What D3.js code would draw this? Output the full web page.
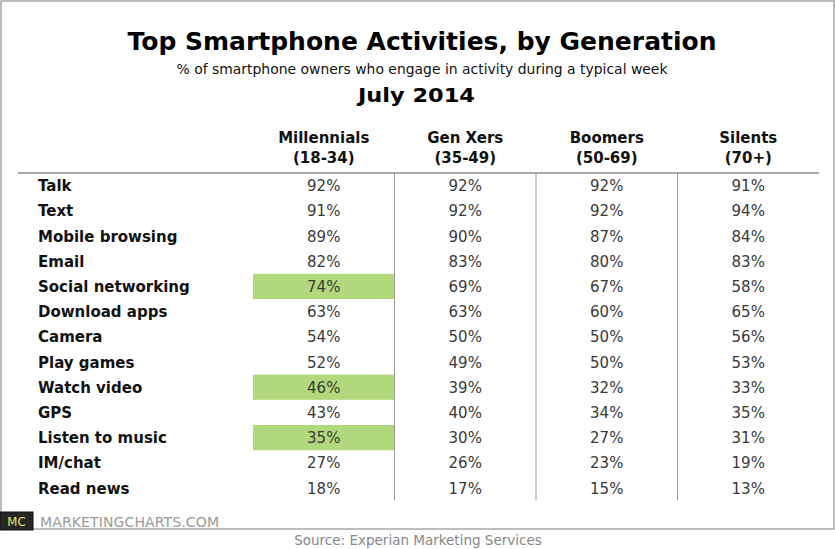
<!DOCTYPE html>
<html>
<head>
<meta charset="utf-8">
<script src="https://cdn.jsdelivr.net/npm/d3@7"></script>
<style>
  body { margin: 0; background: #fff; }
  svg text { font-family: "DejaVu Sans", Verdana, sans-serif; }
</style>
</head>
<body>
<div id="chart"></div>
<script>
// data
var activities = ["Talk", "Text", "Mobile browsing", "Email", "Social networking",
  "Download apps", "Camera", "Play games", "Watch video", "GPS",
  "Listen to music", "IM/chat", "Read news"];
var generations = ["Millennials", "Gen Xers", "Boomers", "Silents"];
var ageRanges = ["(18-34)", "(35-49)", "(50-69)", "(70+)"];
var millennials = [92, 91, 89, 82, 74, 63, 54, 52, 46, 43, 35, 27, 18];
var genXers     = [92, 92, 90, 83, 69, 63, 50, 49, 39, 40, 30, 26, 17];
var boomers     = [92, 92, 87, 80, 67, 60, 50, 50, 32, 34, 27, 23, 15];
var silents     = [91, 94, 84, 83, 58, 65, 56, 53, 33, 35, 31, 19, 13];
var highlighted = ["Social networking", "Watch video", "Listen to music"]; // millennials column

var W = 835, H = 549;
var svg = d3.select("#chart").append("svg")
  .attr("width", W).attr("height", H);

// outer frame
svg.append("rect")
  .attr("x", 1).attr("y", 1)
  .attr("width", 833).attr("height", 528)
  .style("fill", "none")
  .style("stroke", "#a8a8a8")
  .style("stroke-width", 1.5);

// titles
svg.append("text").attr("x", 422).attr("y", 50)
  .attr("text-anchor", "middle")
  .attr("textLength", 589).attr("lengthAdjust", "spacingAndGlyphs")
  .style("font-size", "25px").style("font-weight", "bold").style("fill", "#000")
  .text("Top Smartphone Activities, by Generation");
svg.append("text").attr("x", 422).attr("y", 74)
  .attr("text-anchor", "middle")
  .attr("textLength", 491).attr("lengthAdjust", "spacingAndGlyphs")
  .style("font-size", "13.5px").style("fill", "#111")
  .text("% of smartphone owners who engage in activity during a typical week");
svg.append("text").attr("x", 416.5).attr("y", 102)
  .attr("text-anchor", "middle")
  .attr("textLength", 117).attr("lengthAdjust", "spacingAndGlyphs")
  .style("font-size", "20px").style("font-weight", "bold").style("fill", "#000")
  .text("July 2014");

// scales
var x = d3.scaleBand().domain(generations).range([253, 819]);
var y = d3.scaleBand().domain(activities).range([173, 500.6]);

var columns = [millennials, genXers, boomers, silents];

// highlight cells
svg.selectAll("rect.hl")
  .data(highlighted)
  .enter().append("rect")
  .attr("class", "hl")
  .attr("x", x("Millennials"))
  .attr("y", function(d) { return y(d); })
  .attr("width", x.bandwidth())
  .attr("height", y.bandwidth())
  .style("fill", "#b1d87b");

// column headers
var head = svg.selectAll("g.head")
  .data(generations)
  .enter().append("g")
  .attr("class", "head");
head.append("text")
  .attr("x", function(d) { return x(d) + x.bandwidth() / 2; })
  .attr("y", 143)
  .attr("text-anchor", "middle")
  .style("font-size", "15px").style("font-weight", "bold").style("fill", "#111")
  .text(function(d) { return d; });
head.append("text")
  .attr("x", function(d) { return x(d) + x.bandwidth() / 2; })
  .attr("y", 163)
  .attr("text-anchor", "middle")
  .style("font-size", "15px").style("font-weight", "bold").style("fill", "#111")
  .text(function(d, i) { return ageRanges[i]; });

// grid lines
svg.append("line")
  .attr("x1", 18).attr("x2", 819)
  .attr("y1", 173).attr("y2", 173)
  .style("stroke", "#aaa").style("stroke-width", 2);
svg.selectAll("line.sep")
  .data(generations.slice(1))
  .enter().append("line")
  .attr("class", "sep")
  .attr("x1", function(d) { return x(d); })
  .attr("x2", function(d) { return x(d); })
  .attr("y1", 173).attr("y2", 500)
  .style("stroke", "#999").style("stroke-width", 1);

// row labels
svg.selectAll("text.label")
  .data(activities)
  .enter().append("text")
  .attr("class", "label")
  .attr("x", 38)
  .attr("y", function(d) { return y(d) + y.bandwidth() / 2 + 5.5; })
  .style("font-size", "15px").style("font-weight", "bold").style("fill", "#111")
  .text(function(d) { return d; });

// values
columns.forEach(function(col, ci) {
  svg.selectAll("text.v" + ci)
    .data(col)
    .enter().append("text")
    .attr("class", "v" + ci)
    .attr("x", x(generations[ci]) + x.bandwidth() / 2)
    .attr("y", function(d, i) { return y(activities[i]) + y.bandwidth() / 2 + 5.5; })
    .attr("text-anchor", "middle")
    .style("font-size", "15px").style("fill", "#3a3a3a")
    .text(function(d) { return d + "%"; });
});

// logo + site
svg.append("rect")
  .attr("x", 0).attr("y", 512)
  .attr("width", 33).attr("height", 18)
  .style("fill", "#262626").style("stroke", "#111");
svg.append("text").attr("x", 16.5).attr("y", 526)
  .attr("text-anchor", "middle")
  .style("font-family", "'DejaVu Sans Condensed', sans-serif")
  .style("font-size", "13px").style("fill", "#e8e85a")
  .text("MC");
svg.append("text").attr("x", 40).attr("y", 526.5)
  .style("font-size", "14px").style("fill", "#9a9a9a")
  .attr("textLength", 179)
  .text("MARKETINGCHARTS.COM");

// source
svg.append("text").attr("x", 418).attr("y", 545)
  .attr("text-anchor", "middle")
  .style("font-size", "13.5px").style("fill", "#888")
  .text("Source: Experian Marketing Services");
</script>
</body>
</html>
